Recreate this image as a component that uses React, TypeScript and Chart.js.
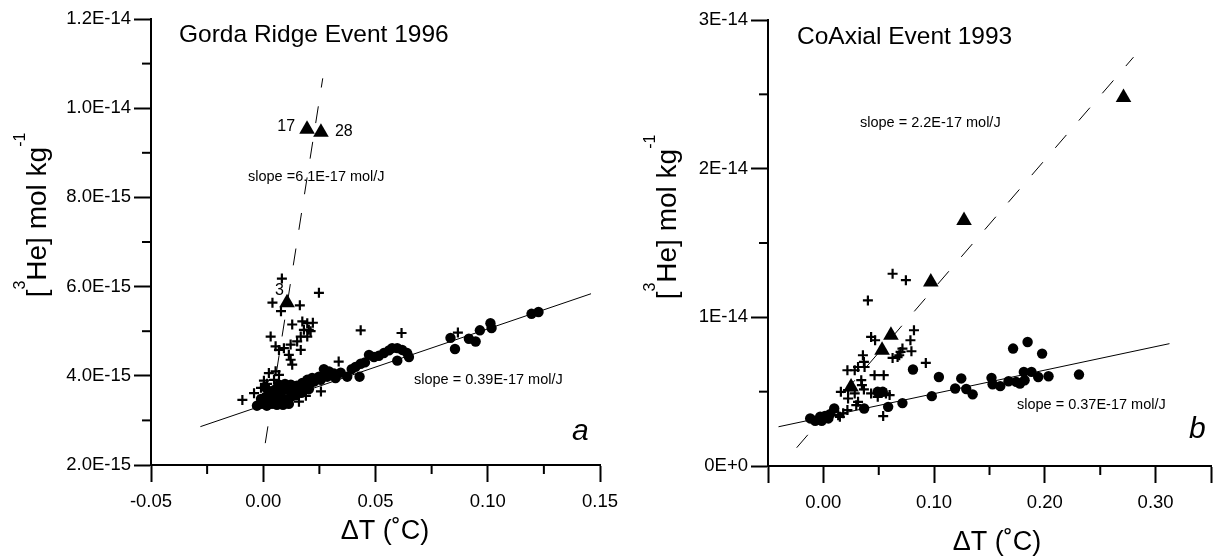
import React, { useEffect, useRef } from 'react';
import { Chart, registerables } from 'chart.js';

Chart.register(...registerables);

const FONT = '"Liberation Sans", Arial, Helvetica, sans-serif';

// ---------------- Panel a: Gorda Ridge Event 1996 ----------------
const gordaCircleX = [
  0.1195, 0.1226, 0.1012, 0.1017, 0.0965, 0.0916, 0.0946, 0.0834, 0.0854, 0.0574,
  0.0597, 0.0619, 0.0641, 0.0649, 0.0597, 0.0560, 0.0537, 0.0515, 0.0493, 0.0471,
  0.0453, 0.0434, 0.0411, 0.0394, 0.0374, 0.0429, 0.0345, 0.0315, 0.0293, 0.0270,
  0.0248, 0.0218, 0.0196, 0.0174, 0.0159, 0.0189, 0.0226, 0.0256, 0.0285, 0.0322,
  -0.0028, -0.0006, 0.0016, 0.0039, 0.0061, 0.0088, 0.0114, -0.0010, 0.0012, 0.0039,
  0.0065, 0.0092, 0.0123, 0.0146, 0.0025, 0.0052, 0.0079, 0.0106, 0.0132, 0.0159,
  0.0070, 0.0097, 0.0123, 0.0150, 0.0181, 0.0208, 0.0008, 0.0203, 0.0170,
];
const gordaCircleY = [
  5.39e-15, 5.43e-15, 5.18e-15, 5.07e-15, 5.02e-15, 4.83e-15, 4.77e-15, 4.85e-15, 4.60e-15, 4.62e-15,
  4.62e-15, 4.58e-15, 4.51e-15, 4.42e-15, 4.34e-15, 4.57e-15, 4.51e-15, 4.45e-15, 4.42e-15, 4.47e-15,
  4.30e-15, 4.27e-15, 4.20e-15, 4.15e-15, 3.98e-15, 3.98e-15, 4.07e-15, 4.05e-15, 4.10e-15, 4.15e-15,
  3.98e-15, 3.95e-15, 3.91e-15, 3.84e-15, 3.76e-15, 3.80e-15, 3.87e-15, 3.91e-15, 3.98e-15, 3.95e-15,
  3.33e-15, 3.37e-15, 3.33e-15, 3.37e-15, 3.35e-15, 3.35e-15, 3.37e-15, 3.48e-15, 3.53e-15, 3.55e-15,
  3.51e-15, 3.48e-15, 3.53e-15, 3.57e-15, 3.66e-15, 3.69e-15, 3.64e-15, 3.69e-15, 3.66e-15, 3.71e-15,
  3.80e-15, 3.82e-15, 3.80e-15, 3.78e-15, 3.78e-15, 3.82e-15, 3.75e-15, 3.70e-15, 3.62e-15,
];
const gordaCrossX = [
  0.0083, 0.0041, 0.0079, 0.0163, 0.0248, 0.0129, 0.0174, 0.0196, 0.0221, 0.0181,
  0.0203, 0.0211, 0.0167, 0.0196, 0.0151, 0.0033, 0.0055, 0.0070, 0.0092, 0.0122,
  0.0167, 0.0114, 0.0122, 0.0129, 0.0025, 0.0055, 0.0070, 0.0048, -0.0041, -0.0093,
  0.0434, 0.0616, 0.0867, 0.0336, 0.0257, -0.0010, 0.0017, 0.0141, 0.0159, 0.0190,
  0.0003,
];
const gordaCrossY = [
  6.18e-15, 5.64e-15, 5.45e-15, 5.58e-15, 5.86e-15, 5.15e-15, 5.22e-15, 5.18e-15, 5.19e-15, 5.03e-15,
  5.03e-15, 5.00e-15, 4.88e-15, 4.88e-15, 4.77e-15, 4.88e-15, 4.66e-15, 4.58e-15, 4.62e-15, 4.70e-15,
  4.58e-15, 4.47e-15, 4.36e-15, 4.25e-15, 4.06e-15, 4.10e-15, 4.02e-15, 3.91e-15, 3.61e-15, 3.46e-15,
  5.02e-15, 4.96e-15, 4.97e-15, 4.32e-15, 3.65e-15, 3.73e-15, 3.82e-15, 3.69e-15, 3.42e-15, 3.55e-15,
  3.89e-15,
];
const gordaTriangleX = [0.0195, 0.0257, 0.0106];
const gordaTriangleY = [9.53e-15, 9.46e-15, 5.64e-15];
const gordaTriangleLabels = ['17', '28', '3'];
const gordaFitX = [-0.028, 0.146];
const gordaFitY = [2.86e-15, 5.84e-15];
const gordaSteepX = [0.0009, 0.0265];
const gordaSteepY = [2.49e-15, 10.67e-15];

// ---------------- Panel b: CoAxial Event 1993 ----------------
const coaxCircleX = [
  -0.0119, -0.0074, -0.0029, -0.0015, 0.0015, 0.0045, 0.006, 0.0098, 0.0368, 0.049,
  0.0536, 0.0585, 0.0714, 0.0809, 0.0979, 0.1043, 0.119, 0.1245, 0.129, 0.1348,
  0.1518, 0.1528, 0.1597, 0.1672, 0.1741, 0.1775, 0.181, 0.1879, 0.1817, 0.194,
  0.2033, 0.2308, 0.1713, 0.1844, 0.1975,
];
const coaxCircleY = [
  0.320e-14, 0.304e-14, 0.331e-14, 0.304e-14, 0.336e-14, 0.320e-14, 0.349e-14, 0.387e-14, 0.387e-14, 0.499e-14,
  0.499e-14, 0.398e-14, 0.423e-14, 0.649e-14, 0.470e-14, 0.599e-14, 0.521e-14, 0.589e-14, 0.518e-14, 0.482e-14,
  0.593e-14, 0.550e-14, 0.537e-14, 0.570e-14, 0.566e-14, 0.555e-14, 0.633e-14, 0.633e-14, 0.577e-14, 0.599e-14,
  0.604e-14, 0.615e-14, 0.790e-14, 0.834e-14, 0.756e-14,
];
const coaxCrossX = [
  0.0625, 0.0745, 0.0402, 0.0431, 0.0467, 0.0818, 0.0786, 0.0714, 0.0697, 0.0795,
  0.0685, 0.0625, 0.067, 0.0925, 0.0357, 0.0366, 0.0313, 0.0372, 0.0217, 0.0283,
  0.0462, 0.0545, 0.0342, 0.0348, 0.0366, 0.0158, 0.0223, 0.0283, 0.0431, 0.0491,
  0.0565, 0.0223, 0.0313, 0.0297, 0.0217, 0.0179, 0.0134, 0.0149, 0.054, 0.0598,
];
const coaxCrossY = [
  1.293e-14, 1.25e-14, 1.114e-14, 0.868e-14, 0.846e-14, 0.913e-14, 0.846e-14, 0.790e-14, 0.767e-14, 0.772e-14,
  0.745e-14, 0.727e-14, 0.733e-14, 0.693e-14, 0.745e-14, 0.700e-14, 0.666e-14, 0.666e-14, 0.644e-14, 0.644e-14,
  0.611e-14, 0.611e-14, 0.577e-14, 0.544e-14, 0.515e-14, 0.499e-14, 0.510e-14, 0.488e-14, 0.488e-14, 0.465e-14,
  0.488e-14, 0.454e-14, 0.432e-14, 0.409e-14, 0.376e-14, 0.354e-14, 0.342e-14, 0.331e-14, 0.336e-14, 0.477e-14,
];
const coaxTriangleX = [0.025, 0.053, 0.061, 0.097, 0.127, 0.271];
const coaxTriangleY = [0.532e-14, 0.779e-14, 0.879e-14, 1.237e-14, 1.651e-14, 2.479e-14];
const coaxFitX = [-0.0405, 0.3125];
const coaxFitY = [0.264e-14, 0.823e-14];
const coaxSteepX = [-0.0241, 0.28];
const coaxSteepY = [0.123e-14, 2.75e-14];

// ---------------- helpers ----------------
const zip = (xs: number[], ys: number[]) => xs.map((x, i) => ({ x, y: ys[i] }));
const isMult = (v: number, step: number) => Math.abs(v / step - Math.round(v / step)) < 1e-6;

const MAJOR_LEN = 17;
const MINOR_LEN = 9;

type TextItem = {
  text: string;
  dx: number;
  dy: number;
  font: string;
  align?: CanvasTextAlign;
  baseline?: CanvasTextBaseline;
};
type PointLabel = { text: string; x: number; y: number; dx: number; dy: number; align: CanvasTextAlign };
type PanelSpec = {
  circles: { x: number; y: number }[];
  crosses: { x: number; y: number }[];
  triangles: { x: number; y: number }[];
  fit: { x: number; y: number }[];
  steep: { x: number; y: number }[];
  xMin: number; xMax: number; xStep: number; xLabel: (v: number) => string;
  yMin: number; yMax: number; yStep: number; yLabel: (v: number) => string;
  padding: { left: number; right: number; top: number; bottom: number };
  yWidth: number; xHeight: number;
  texts: TextItem[];
  pointLabels: PointLabel[];
  yTitle: { dx: number; dy: number };
};

const isMajor = (label: any, index: number, count: number) =>
  (label !== '' && label !== undefined && label !== null) || index === 0 || index === count - 1;

const minorTickPlugin = {
  id: 'minorTicks',
  afterDraw(chart: any) {
    const { ctx, chartArea } = chart;
    ctx.save();
    ctx.strokeStyle = '#000';
    ctx.lineWidth = 2;
    ['x', 'y'].forEach((id) => {
      const s = chart.scales[id];
      s.ticks.forEach((t: any, i: number) => {
        if (isMajor(t.label, i, s.ticks.length)) return;
        const p = s.getPixelForValue(t.value);
        ctx.beginPath();
        if (id === 'x') {
          ctx.moveTo(p, chartArea.bottom);
          ctx.lineTo(p, chartArea.bottom + MINOR_LEN);
        } else {
          ctx.moveTo(chartArea.left - MINOR_LEN, p);
          ctx.lineTo(chartArea.left, p);
        }
        ctx.stroke();
      });
    });
    ctx.restore();
  },
};

const textPlugin = {
  id: 'panelText',
  afterDraw(chart: any, _args: any, opts: any) {
    const { ctx, chartArea, scales } = chart;
    ctx.save();
    ctx.fillStyle = '#000';
    (opts.texts as TextItem[]).forEach((t) => {
      ctx.font = t.font;
      ctx.textAlign = t.align || 'left';
      ctx.textBaseline = t.baseline || 'middle';
      ctx.fillText(t.text, chartArea.left + t.dx, chartArea.top + t.dy);
    });
    (opts.pointLabels as PointLabel[]).forEach((p) => {
      ctx.font = `16px ${FONT}`;
      ctx.textAlign = p.align;
      ctx.textBaseline = 'middle';
      ctx.fillText(p.text, scales.x.getPixelForValue(p.x) + p.dx, scales.y.getPixelForValue(p.y) + p.dy);
    });
    // rotated y-axis title with superscripts: [3He] mol kg-1
    const parts = [
      { text: '[', size: 28, rise: 0 },
      { text: '3', size: 16, rise: 21 },
      { text: 'He] mol kg', size: 28, rise: 0 },
      { text: '-1', size: 16, rise: 21 },
    ];
    ctx.translate(chartArea.left + opts.yTitle.dx, chartArea.top + opts.yTitle.dy);
    ctx.rotate(-Math.PI / 2);
    ctx.textAlign = 'left';
    ctx.textBaseline = 'alphabetic';
    let total = 0;
    const widths = parts.map((p) => {
      ctx.font = `${p.size}px ${FONT}`;
      const w = ctx.measureText(p.text).width;
      total += w;
      return w;
    });
    let cx = -total / 2;
    parts.forEach((p, i) => {
      ctx.font = `${p.size}px ${FONT}`;
      ctx.fillText(p.text, cx, -p.rise);
      cx += widths[i];
    });
    ctx.restore();
  },
};

function makeConfig(spec: PanelSpec): any {
  const tickFont = { family: FONT, size: 18.5 };
  const tickColor = (c: any) =>
    c.tick && isMajor(c.tick.label, c.index, c.scale.ticks.length) ? '#000' : 'rgba(0,0,0,0)';
  return {
    type: 'scatter',
    data: {
      datasets: [
        { data: spec.triangles, pointStyle: 'triangle', pointRadius: 9, backgroundColor: '#000', borderColor: '#000', borderWidth: 0 },
        { data: spec.circles, pointStyle: 'circle', pointRadius: 5.2, backgroundColor: '#000', borderColor: '#000', borderWidth: 0 },
        { data: spec.crosses, pointStyle: 'cross', pointRadius: 5, borderColor: '#000', borderWidth: 2.2 },
        { data: spec.fit, showLine: true, pointRadius: 0, borderColor: '#000', borderWidth: 1 },
        { data: spec.steep, showLine: true, pointRadius: 0, borderColor: '#000', borderWidth: 1, borderDash: [17, 19] },
      ],
    },
    options: {
      responsive: false,
      animation: false,
      devicePixelRatio: 1,
      layout: { padding: spec.padding },
      plugins: {
        legend: { display: false },
        tooltip: { enabled: false },
        panelText: { texts: spec.texts, pointLabels: spec.pointLabels, yTitle: spec.yTitle },
      },
      scales: {
        x: {
          type: 'linear',
          min: spec.xMin,
          max: spec.xMax,
          afterFit: (s: any) => { s.height = spec.xHeight; },
          border: { display: true, color: '#000', width: 2 },
          grid: { drawOnChartArea: false, drawTicks: true, tickLength: MAJOR_LEN, tickWidth: 2, tickColor },
          ticks: {
            stepSize: spec.xStep,
            autoSkip: false,
            maxRotation: 0,
            minRotation: 0,
            padding: 9,
            color: '#000',
            font: tickFont,
            callback: (v: number) => spec.xLabel(v),
          },
        },
        y: {
          type: 'linear',
          min: spec.yMin,
          max: spec.yMax,
          afterFit: (s: any) => { s.width = spec.yWidth; },
          border: { display: true, color: '#000', width: 2 },
          grid: { drawOnChartArea: false, drawTicks: true, tickLength: MAJOR_LEN, tickWidth: 2, tickColor },
          ticks: {
            stepSize: spec.yStep,
            autoSkip: false,
            padding: 3,
            color: '#000',
            font: tickFont,
            callback: (v: number) => spec.yLabel(v),
          },
        },
      },
    },
    plugins: [minorTickPlugin, textPlugin],
  };
}

const cleanX = (v: number) => (Math.abs(v) < 1e-9 ? 0 : v);
const cleanY = (v: number) => (Math.abs(v) < 1e-20 ? 0 : v);

const gordaSpec: PanelSpec = {
  circles: zip(gordaCircleX, gordaCircleY),
  crosses: zip(gordaCrossX, gordaCrossY),
  triangles: zip(gordaTriangleX, gordaTriangleY),
  fit: zip(gordaFitX, gordaFitY),
  steep: zip(gordaSteepX, gordaSteepY),
  xMin: -0.05, xMax: 0.15, xStep: 0.025,
  xLabel: (v) => (isMult(v, 0.05) ? cleanX(v).toFixed(2) : ''),
  yMin: 2e-15, yMax: 1.2e-14, yStep: 1e-15,
  yLabel: (v) => (isMult(v, 2e-15) ? cleanY(v).toExponential(1).toUpperCase() : ''),
  padding: { left: 0, right: 620, top: 19, bottom: 0 },
  yWidth: 151, xHeight: 93,
  texts: [
    { text: 'Gorda Ridge Event 1996', dx: 28, dy: 16, font: `24.5px ${FONT}` },
    { text: 'slope =6.1E-17 mol/J', dx: 97, dy: 158, font: `14.5px ${FONT}` },
    { text: 'slope = 0.39E-17 mol/J', dx: 263, dy: 361, font: `14.5px ${FONT}` },
    { text: 'a', dx: 421, dy: 421, font: `italic 30px ${FONT}`, baseline: 'alphabetic' },
    { text: 'ΔT (˚C)', dx: 234, dy: 513, font: `27px ${FONT}`, align: 'center' },
  ],
  pointLabels: [
    { text: gordaTriangleLabels[0], x: gordaTriangleX[0], y: gordaTriangleY[0], dx: -12, dy: -3, align: 'right' },
    { text: gordaTriangleLabels[1], x: gordaTriangleX[1], y: gordaTriangleY[1], dx: 14, dy: -1, align: 'left' },
    { text: gordaTriangleLabels[2], x: gordaTriangleX[2], y: gordaTriangleY[2], dx: -12, dy: -12, align: 'left' },
  ],
  yTitle: { dx: -105, dy: 196 },
};

const coaxSpec: PanelSpec = {
  circles: zip(coaxCircleX, coaxCircleY),
  crosses: zip(coaxCrossX, coaxCrossY),
  triangles: zip(coaxTriangleX, coaxTriangleY),
  fit: zip(coaxFitX, coaxFitY),
  steep: zip(coaxSteepX, coaxSteepY),
  xMin: -0.05, xMax: 0.35, xStep: 0.05,
  xLabel: (v) => (isMult(v, 0.1) && v > -0.01 && v < 0.31 ? cleanX(v).toFixed(2) : ''),
  yMin: 0, yMax: 3e-14, yStep: 5e-15,
  yLabel: (v) => (isMult(v, 1e-14) ? cleanY(v).toExponential(0).toUpperCase() : ''),
  padding: { left: 628, right: 3, top: 20, bottom: 0 },
  yWidth: 140, xHeight: 92,
  texts: [
    { text: 'CoAxial Event 1993', dx: 29, dy: 17, font: `24.5px ${FONT}` },
    { text: 'slope = 2.2E-17 mol/J', dx: 92, dy: 103, font: `14.5px ${FONT}` },
    { text: 'slope = 0.37E-17 mol/J', dx: 249, dy: 385, font: `14.5px ${FONT}` },
    { text: 'b', dx: 421, dy: 418, font: `italic 30px ${FONT}`, baseline: 'alphabetic' },
    { text: 'ΔT (˚C)', dx: 229, dy: 523, font: `27px ${FONT}`, align: 'center' },
  ],
  pointLabels: [],
  yTitle: { dx: -92, dy: 197 },
};

export default function App() {
  const refA = useRef<HTMLCanvasElement | null>(null);
  const refB = useRef<HTMLCanvasElement | null>(null);

  useEffect(() => {
    const charts: Chart[] = [];
    if (refA.current) charts.push(new Chart(refA.current, makeConfig(gordaSpec)));
    if (refB.current) charts.push(new Chart(refB.current, makeConfig(coaxSpec)));
    return () => charts.forEach((c) => c.destroy());
  }, []);

  const canvasStyle: React.CSSProperties = { position: 'absolute', left: 0, top: 0, width: 1220, height: 558 };
  return (
    <div style={{ position: 'absolute', left: 0, top: 0, width: 1220, height: 558, background: '#fff', overflow: 'hidden' }}>
      <canvas ref={refA} width={1220} height={558} style={canvasStyle} />
      <canvas ref={refB} width={1220} height={558} style={canvasStyle} />
    </div>
  );
}
